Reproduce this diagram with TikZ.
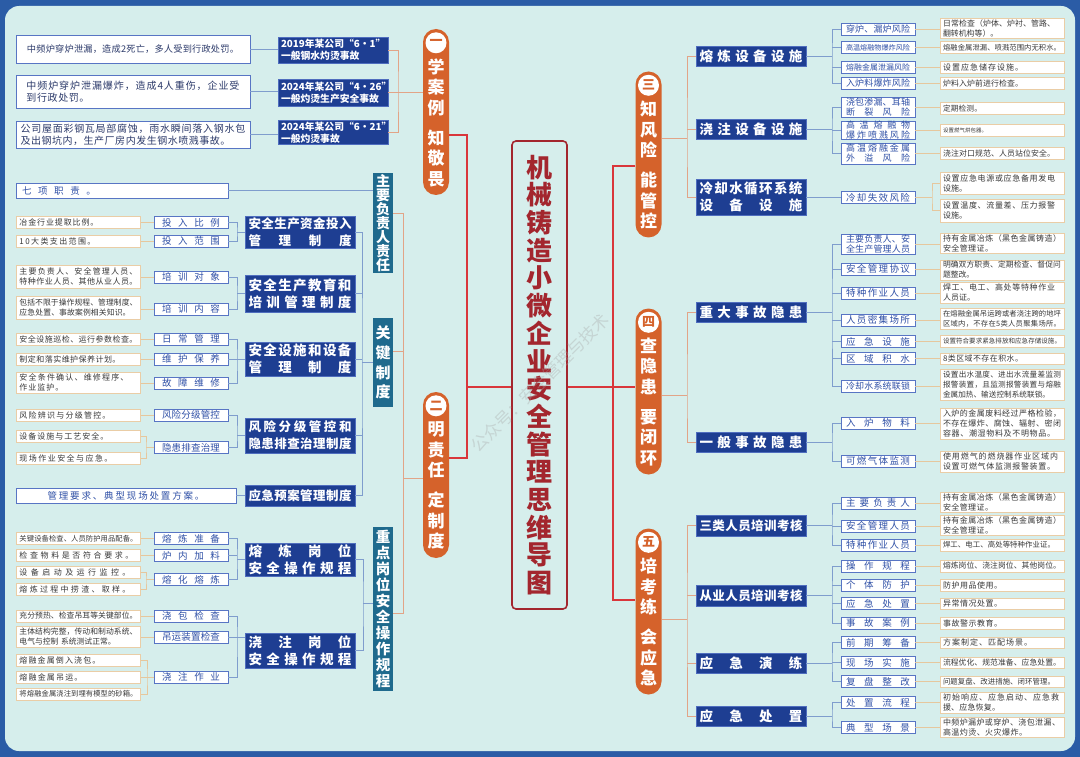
\documentclass[tikz,border=0pt]{standalone}
\usepackage{fontspec}
\setmainfont{Noto Sans CJK SC}
\usetikzlibrary{calc}
\definecolor{frameblue}{HTML}{2B5CA6}
\definecolor{paper}{HTML}{D6EEEC}
\definecolor{navybox}{HTML}{1E3E92}
\definecolor{navyedge}{HTML}{4F6DBE}
\definecolor{tealfill}{HTML}{1F6A8D}
\definecolor{pillorange}{HTML}{D5622B}
\definecolor{titlered}{HTML}{A3262E}
\definecolor{linkred}{HTML}{D9363B}
\definecolor{linksalmon}{HTML}{E2A487}
\definecolor{linkblue}{HTML}{7F9DCD}
\definecolor{linktan}{HTML}{E6C79D}
\definecolor{midtext}{HTML}{2F50A6}
\definecolor{midedge}{HTML}{5875C4}
\definecolor{leafedge}{HTML}{EACDA6}
\definecolor{leaftext}{HTML}{383838}
\definecolor{notetext}{HTML}{2C3A6A}

% spread the characters of #2 over the width #1
\makeatletter
\newcommand\spreadto[2]{\makebox[#1][s]{\spread@#2\@nil}}
\def\spread@#1#2\@nil{#1\ifx\relax#2\relax\else\hfil\spread@#2\@nil\fi}
\makeatother

\tikzset{
  titlebox/.style={rectangle, rounded corners=4pt, draw=titlered, line width=1.6pt, fill=paper, text=titlered, minimum width=55pt, minimum height=468pt, inner sep=0pt, align=center, font=\bfseries\fontsize{26}{27.7}\selectfont},
  pill/.style={rectangle, rounded corners=13pt, fill=pillorange, minimum width=26pt, minimum height=166pt, inner sep=0pt},
  numdot/.style={circle, fill=white, text=pillorange, minimum size=21pt, inner sep=0pt, font=\bfseries\fontsize{13}{13}\selectfont},
  pilltext/.style={text=white, inner sep=0pt, align=center, font=\bfseries\fontsize{17}{20.5}\selectfont},
  tealbox/.style={rectangle, fill=tealfill, text=white, minimum width=20pt, inner sep=0pt, align=center, font=\bfseries\fontsize{14}{13.9}\selectfont},
  darkbox/.style={rectangle, fill=navybox, draw=navyedge, line width=0.6pt, text=white, minimum width=110pt, inner sep=0pt, align=center, font=\bfseries\fontsize{13.5}{17}\selectfont},
  casebox/.style={rectangle, fill=navybox, draw=navyedge, line width=0.6pt, text=white, text width=104pt, inner xsep=3pt, inner ysep=0pt, align=left, font=\bfseries\fontsize{9.8}{12}\selectfont},
  notebox/.style={rectangle, fill=white, draw=midedge, line width=0.8pt, text=notetext, minimum width=234pt, inner sep=0pt, align=left, font=\fontsize{10}{12}\selectfont},
  widebox/.style={rectangle, fill=white, draw=midedge, line width=0.8pt, text=midtext, minimum height=15pt, inner sep=0pt, font=\fontsize{9.5}{11}\selectfont},
  midbox/.style={rectangle, fill=white, draw=midedge, line width=0.8pt, text=midtext, minimum width=74pt, minimum height=12pt, inner sep=0pt, align=center, font=\fontsize{9.5}{10}\selectfont},
  leafbox/.style={rectangle, fill=white, draw=leafedge, line width=0.8pt, text=leaftext, text width=118pt, inner xsep=3pt, inner ysep=0pt, minimum height=12pt, align=left, font=\fontsize{8}{10}\selectfont},
  redline/.style={draw=linkred, line width=1.3pt},
  orgline/.style={draw=linksalmon, line width=0.8pt},
  blueline/.style={draw=linkblue, line width=0.8pt},
  tanline/.style={draw=linktan, line width=0.8pt}
}

\begin{document}
\begin{tikzpicture}[x=1pt, y=-1pt]
\useasboundingbox (0,0) rectangle (1080,757);
\fill[frameblue] (0,0) rectangle (1080,757);
\fill[paper, rounded corners=14pt] (5,6) rectangle (1075,751);

% Title
\node[titlebox] (title) at (539.5,375) {机\\械\\铸\\造\\小\\微\\企\\业\\安\\全\\管\\理\\思\\维\\导\\图};

% Branch pills
\node[pill] (p1) at (436,112) {};
\node[numdot] (p1n) at ([yshift=-14pt]p1.north) {一};
\node[pilltext] (p1t) at ([yshift=-10.5pt]p1.center) {学\\案\\例\\[9.5pt]知\\敬\\畏};
\node[pill] (p2) at (436,475) {};
\node[numdot] (p2n) at ([yshift=-14pt]p2.north) {二};
\node[pilltext] (p2t) at ([yshift=-10.5pt]p2.center) {明\\责\\任\\[9.5pt]定\\制\\度};
\node[pill] (p3) at (648.5,154.5) {};
\node[numdot] (p3n) at ([yshift=-14pt]p3.north) {三};
\node[pilltext] (p3t) at ([yshift=-10.5pt]p3.center) {知\\风\\险\\[9.5pt]能\\管\\控};
\node[pill] (p4) at (648.5,391.5) {};
\node[numdot] (p4n) at ([yshift=-14pt]p4.north) {四};
\node[pilltext] (p4t) at ([yshift=-10.5pt]p4.center) {查\\隐\\患\\[9.5pt]要\\闭\\环};
\node[pill] (p5) at (648.5,611.5) {};
\node[numdot] (p5n) at ([yshift=-14pt]p5.north) {五};
\node[pilltext] (p5t) at ([yshift=-10.5pt]p5.center) {培\\考\\练\\[9.5pt]会\\应\\急};

% Trunk
\coordinate (jl) at (467,387);
\coordinate (jr) at (613,387);
\draw[redline] ([yshift=-23pt]p1.east) -| (jl) |- ([yshift=17pt]p2.east);
\draw[redline] (jl) -- (title.west |- jl);
\draw[redline] ([yshift=-11.5pt]p3.west) -| (jr) |- ([yshift=11.5pt]p5.west);
\draw[redline] (title.east |- jr) -- (p4.west |- jr);

% Cases
\node[notebox, text width=212pt, minimum height=28pt, font=\fontsize{9.2}{12}\selectfont] (wn1) at (133,49) {\spreadto{212pt}{中频炉穿炉泄漏，造成2死亡，多人受到行政处罚。}};
\node[notebox, text width=213pt, minimum height=33pt] (wn2) at (133,91.5) {\spreadto{213pt}{中频炉穿炉泄漏爆炸，造成4人重伤，企业受}\\\spreadto{63pt}{到行政处罚。}};
\node[notebox, text width=225pt, minimum height=27pt] (wn3) at (133,134.5) {\spreadto{225pt}{公司屋面彩钢瓦局部腐蚀，雨水瞬间落入钢水包}\\\spreadto{210pt}{及出钢坑内，生产厂房内发生钢水喷溅事故。}};
\node[casebox, minimum height=26pt] (cb1) at (333,50) {2019年某公司“6•1”\\一般钢水灼烫事故};
\node[casebox, minimum height=27pt] (cb2) at (333,92.5) {2024年某公司“4•26”\\一般灼烫生产安全事故};
\node[casebox, minimum height=23.5pt] (cb3) at (333,132.5) {2024年某公司“6•21”\\一般灼烫事故};

\foreach \i in {1,2,3}
  \draw[blueline] (wn\i.east) -- (cb\i.west |- wn\i.east);
\coordinate (a1) at (398,92);
\draw[orgline] (cb1.east) -| (a1) |- (cb3.east);
\draw[orgline] (cb2.east) -- (p1.west |- cb2.east);

% Duties and rules
\node[tealbox, minimum height=100pt] (vb1) at (383,223) {主\\要\\负\\责\\人\\责\\任};
\node[tealbox, minimum height=89pt, font=\bfseries\fontsize{15}{19.7}\selectfont] (vb2) at (383,362.5) {关\\键\\制\\度};
\node[tealbox, minimum height=164pt, font=\bfseries\fontsize{14.5}{15.9}\selectfont] (vb3) at (383,609) {重\\点\\岗\\位\\安\\全\\操\\作\\规\\程};

\coordinate (a2t) at (403,213);
\coordinate (a2m) at (403,351);
\coordinate (a2) at (403,478);
\coordinate (a2b) at (403,613);
\draw[orgline] (vb1.east |- a2t) -- (a2t) -- (a2b) -- (vb3.east |- a2b);
\draw[orgline] (vb2.east |- a2m) -- (a2m);
\draw[orgline] (a2) -- (p2.west |- a2);

\node[widebox, minimum width=212pt, text width=200pt, align=left] (lw1) at (122,190.5) {\spreadto{74pt}{七项职责。}};
\draw[blueline] (lw1.east) -- (vb1.west |- lw1.east);

\node[darkbox, minimum height=32pt, font=\bfseries\fontsize{12.5}{17}\selectfont] (db1) at (300,232) {\spreadto{103pt}{安全生产资金投入}\\\spreadto{103pt}{管理制度}};
\node[darkbox, minimum height=37pt] (db2) at (300,293.5) {\spreadto{103pt}{安全生产教育和}\\\spreadto{103pt}{培训管理制度}};
\node[darkbox, minimum height=34pt] (db3) at (300,359) {\spreadto{103pt}{安全设施和设备}\\\spreadto{103pt}{管理制度}};
\node[darkbox, minimum height=35pt, font=\bfseries\fontsize{12.5}{17}\selectfont] (db4) at (300,435.5) {\spreadto{103pt}{风险分级管控和}\\\spreadto{103pt}{隐患排查治理制度}};
\node[darkbox, minimum height=21pt, font=\bfseries\fontsize{12.5}{17}\selectfont] (db5) at (300,495.5) {\spreadto{103pt}{应急预案管理制度}};
\node[darkbox, minimum height=33pt] (db6) at (300,559.5) {\spreadto{103pt}{熔炼岗位}\\\spreadto{103pt}{安全操作规程}};
\node[darkbox, minimum height=35pt] (db7) at (300,650.5) {\spreadto{103pt}{浇注岗位}\\\spreadto{103pt}{安全操作规程}};

\coordinate (k1) at (362,362.5);
\draw[blueline] (db1.east) -| (k1) |- (db5.east);
\foreach \i in {2,3,4}
  \draw[blueline] (db\i.east) -- (db\i.east -| k1);
\draw[blueline] (k1) -- (vb2.west |- k1);
\coordinate (k2) at (363,603);
\draw[blueline] (db6.east) -| (k2) |- (db7.east);
\draw[blueline] (k2) -- (vb3.west |- k2);

% Left items
\node[midbox] (m1) at (191,222.5) {\spreadto{58pt}{投入比例}};
\node[midbox] (m2) at (191,241) {\spreadto{58pt}{投入范围}};
\node[midbox] (m3) at (191,277) {\spreadto{58pt}{培训对象}};
\node[midbox] (m4) at (191,309) {\spreadto{58pt}{培训内容}};
\node[midbox] (m5) at (191,339) {\spreadto{58pt}{日常管理}};
\node[midbox] (m6) at (191,359) {\spreadto{58pt}{维护保养}};
\node[midbox] (m7) at (191,383) {\spreadto{58pt}{故障维修}};
\node[midbox] (m8) at (191,415) {\spreadto{58pt}{风险分级管控}};
\node[midbox] (m9) at (191,447.5) {\spreadto{58pt}{隐患排查治理}};
\node[midbox] (m10) at (191,538.5) {\spreadto{58pt}{熔炼准备}};
\node[midbox] (m11) at (191,555.5) {\spreadto{58pt}{炉内加料}};
\node[midbox] (m12) at (191,579.5) {\spreadto{58pt}{熔化熔炼}};
\node[midbox] (m13) at (191,616) {\spreadto{58pt}{浇包检查}};
\node[midbox] (m14) at (191,637) {\spreadto{58pt}{吊运装置检查}};
\node[midbox] (m15) at (191,677) {\spreadto{58pt}{浇注作业}};

\coordinate (g1) at (237,232);
\coordinate (g2) at (237,293.5);
\coordinate (g3) at (237,359);
\coordinate (g4) at (237,435.5);
\coordinate (g6) at (237,559.5);
\coordinate (g7) at (237,637);
\draw[blueline] (m1.east) -| (g1) |- (m2.east);
\draw[blueline] (g1) -- (db1.west);
\draw[blueline] (m3.east) -| (g2) |- (m4.east);
\draw[blueline] (g2) -- (db2.west);
\draw[blueline] (m5.east) -| (g3) |- (m7.east);
\draw[blueline] (m6.east) -- (db3.west);
\draw[blueline] (m8.east) -| (g4) |- (m9.east);
\draw[blueline] (g4) -- (db4.west);
\draw[blueline] (m10.east) -| (g6) |- (m12.east);
\draw[blueline] (m11.east) -- (m11.east -| g6);
\draw[blueline] (g6) -- (db6.west);
\draw[blueline] (m13.east) -| (g7) |- (m15.east);
\draw[blueline] (m14.east) -- (db7.west |- m14.east);

% Left leaves
\node[leafbox] (l1) at (78.5,222.5) {\spreadto{79pt}{冶金行业提取比例。}};
\node[leafbox] (l2) at (78.5,241) {\spreadto{76pt}{10大类支出范围。}};
\node[leafbox, minimum height=23pt] (l3) at (78.5,276.5) {\spreadto{118pt}{主要负责人、安全管理人员、}\\\spreadto{118pt}{特种作业人员、其他从业人员。}};
\node[leafbox, minimum height=23pt, font=\fontsize{7.8}{10}\selectfont] (l4) at (78.5,307.5) {\spreadto{118pt}{包括不限于操作规程、管理制度、}\\\spreadto{111pt}{应急处置、事故案例相关知识。}};
\node[leafbox] (l5) at (78.5,339) {\spreadto{118pt}{安全设施巡检、运行参数检查。}};
\node[leafbox] (l6) at (78.5,359) {\spreadto{101pt}{制定和落实维护保养计划。}};
\node[leafbox, minimum height=21pt] (l7) at (78.5,382.5) {\spreadto{109pt}{安全条件确认、维修程序、}\\\spreadto{44pt}{作业监护。}};
\node[leafbox] (l8) at (78.5,415) {\spreadto{91pt}{风险辨识与分级管控。}};
\node[leafbox] (l9) at (78.5,436) {\spreadto{89pt}{设备设施与工艺安全。}};
\node[leafbox] (l10) at (78.5,458) {\spreadto{93pt}{现场作业安全与应急。}};
\node[widebox, minimum width=220pt] (lw2) at (126,495.5) {\spreadto{157pt}{管理要求、典型现场处置方案。}};
\node[leafbox, font=\fontsize{7.3}{10}\selectfont] (l11) at (78.5,538.5) {\spreadto{118pt}{关键设备检查、人员防护用品配备。}};
\node[leafbox] (l12) at (78.5,555.5) {\spreadto{114pt}{检查物料是否符合要求。}};
\node[leafbox] (l13) at (78.5,572) {\spreadto{111pt}{设备启动及运行监控。}};
\node[leafbox] (l14) at (78.5,589) {\spreadto{111pt}{熔炼过程中捞渣、取样。}};
\node[leafbox, font=\fontsize{7.8}{10}\selectfont] (l15) at (78.5,616) {\spreadto{118pt}{充分预热、检查吊耳等关键部位。}};
\node[leafbox, minimum height=21pt, font=\fontsize{7.8}{10}\selectfont] (l16) at (78.5,636.5) {\spreadto{118pt}{主体结构完整，传动和制动系统、}\\电气与控制 系统测试正常。};
\node[leafbox] (l17) at (78.5,660) {\spreadto{81pt}{熔融金属倒入浇包。}};
\node[leafbox] (l18) at (78.5,677) {\spreadto{63pt}{熔融金属吊运。}};
\node[leafbox, font=\fontsize{7.3}{10}\selectfont] (l19) at (78.5,694) {\spreadto{118pt}{将熔融金属浇注到埋有模型的砂箱。}};

\foreach \a/\b in {1/1,2/2,3/3,4/4,5/5,6/6,7/7,8/8,11/10,12/11,15/13,16/14}
  \draw[tanline] (m\b.west) -- (l\a.east |- m\b.west);
\coordinate (h9) at (146,447.5);
\draw[tanline] (l9.east) -| (h9) |- (l10.east);
\draw[tanline] (h9) -- (m9.west);
\coordinate (h12) at (146,579.5);
\draw[tanline] (l13.east) -| (h12) |- (l14.east);
\draw[tanline] (h12) -- (m12.west);
\coordinate (h15) at (147,677);
\draw[tanline] (l17.east) -| (h15) |- (l19.east);
\draw[tanline] (l18.east) -- (m15.west);
\draw[blueline] (lw2.east) -- (db5.west |- lw2.east);

% Right groups
\node[darkbox, minimum height=20pt] (d1) at (751,56) {\spreadto{103pt}{熔炼设备设施}};
\node[darkbox, minimum height=20pt] (d2) at (751,129) {\spreadto{103pt}{浇注设备设施}};
\node[darkbox, minimum height=36pt] (d3) at (751,197) {\spreadto{103pt}{冷却水循环系统}\\\spreadto{103pt}{设备设施}};
\node[darkbox, minimum height=20pt] (d4) at (751,312) {\spreadto{103pt}{重大事故隐患}};
\node[darkbox, minimum height=20pt] (d5) at (751,442) {\spreadto{103pt}{一般事故隐患}};
\node[darkbox, minimum height=21pt, font=\bfseries\fontsize{12.5}{17}\selectfont] (d6) at (751,525.5) {\spreadto{103pt}{三类人员培训考核}};
\node[darkbox, minimum height=21pt, font=\bfseries\fontsize{12.5}{17}\selectfont] (d7) at (751,595.5) {\spreadto{103pt}{从业人员培训考核}};
\node[darkbox, minimum height=20pt] (d8) at (751,663) {\spreadto{103pt}{应急演练}};
\node[darkbox, minimum height=20pt] (d9) at (751,716) {\spreadto{103pt}{应急处置}};

\coordinate (c3) at (687,138);
\draw[orgline] ([yshift=16.5pt]p3.east) -- (c3);
\draw[orgline] (d1.west) -| (c3) |- (d3.west);
\draw[orgline] (d2.west) -- (d2.west -| c3);
\coordinate (c4) at (687,395);
\draw[orgline] (p4.east |- c4) -- (c4);
\draw[orgline] (d4.west) -| (c4) |- (d5.west);
\coordinate (c5) at (687,619);
\draw[orgline] (p5.east |- c5) -- (c5);
\draw[orgline] (d6.west) -| (c5) |- (d9.west);
\draw[orgline] (d7.west) -- (d7.west -| c5);
\draw[orgline] (d8.west) -- (d8.west -| c5);

% Right items
\node[midbox, font=\fontsize{9}{10}\selectfont] (n1) at (878,29.5) {\spreadto{64pt}{穿炉、漏炉风险}};
\node[midbox, font=\fontsize{7.1}{10}\selectfont] (n2) at (878,47.5) {\spreadto{64pt}{高温熔融物爆炸风险}};
\node[midbox, font=\fontsize{7.9}{10}\selectfont] (n3) at (878,67.5) {\spreadto{64pt}{熔融金属泄漏风险}};
\node[midbox, font=\fontsize{9}{10}\selectfont] (n4) at (878,83.5) {\spreadto{64pt}{入炉料爆炸风险}};
\node[midbox, minimum height=20pt, font=\fontsize{9}{10}\selectfont] (n5) at (878,107) {\spreadto{64pt}{浇包渗漏、耳轴}\\\spreadto{64pt}{断裂风险}};
\node[midbox, minimum height=18pt, font=\fontsize{9}{9.5}\selectfont] (n6) at (878,130) {\spreadto{64pt}{高温熔融物}\\\spreadto{64pt}{爆炸喷溅风险}};
\node[midbox, minimum height=21pt, font=\fontsize{9}{10}\selectfont] (n7) at (878,153.5) {\spreadto{64pt}{高温熔融金属}\\\spreadto{64pt}{外溢风险}};
\node[midbox] (n8) at (878,197.5) {\spreadto{64pt}{冷却失效风险}};
\node[midbox, minimum height=20pt, font=\fontsize{9}{10}\selectfont] (n9) at (878,244) {\spreadto{64pt}{主要负责人、安}\\\spreadto{64pt}{全生产管理人员}};
\node[midbox] (n10) at (878,269) {\spreadto{64pt}{安全管理协议}};
\node[midbox] (n11) at (878,293) {\spreadto{64pt}{特种作业人员}};
\node[midbox] (n12) at (878,320) {\spreadto{64pt}{人员密集场所}};
\node[midbox] (n13) at (878,341.5) {\spreadto{64pt}{应急设施}};
\node[midbox] (n14) at (878,358.5) {\spreadto{64pt}{区域积水}};
\node[midbox, font=\fontsize{9}{10}\selectfont] (n15) at (878,386) {\spreadto{64pt}{冷却水系统联锁}};
\node[midbox] (n16) at (878,423) {\spreadto{64pt}{入炉物料}};
\node[midbox] (n17) at (878,461) {\spreadto{64pt}{可燃气体监测}};
\node[midbox] (n18) at (878,503) {\spreadto{64pt}{主要负责人}};
\node[midbox] (n19) at (878,526) {\spreadto{64pt}{安全管理人员}};
\node[midbox] (n20) at (878,545) {\spreadto{64pt}{特种作业人员}};
\node[midbox] (n21) at (878,566) {\spreadto{64pt}{操作规程}};
\node[midbox] (n22) at (878,585) {\spreadto{64pt}{个体防护}};
\node[midbox] (n23) at (878,603.5) {\spreadto{64pt}{应急处置}};
\node[midbox] (n24) at (878,623) {\spreadto{64pt}{事故案例}};
\node[midbox] (n25) at (878,642.5) {\spreadto{64pt}{前期筹备}};
\node[midbox] (n26) at (878,662.5) {\spreadto{64pt}{现场实施}};
\node[midbox] (n27) at (878,681.5) {\spreadto{64pt}{复盘整改}};
\node[midbox] (n28) at (878,702.5) {\spreadto{64pt}{处置流程}};
\node[midbox] (n29) at (878,727.5) {\spreadto{64pt}{典型场景}};

\coordinate (q1) at (832,56);
\draw[blueline] (n1.west) -| (q1) |- (n4.west);
\foreach \i in {2,3}
  \draw[blueline] (n\i.west) -- (n\i.west -| q1);
\draw[blueline] (d1.east) -- (q1);
\coordinate (q2) at (832,129);
\draw[blueline] (n5.west) -| (q2) |- (n7.west);
\draw[blueline] (n6.west) -- (n6.west -| q2);
\draw[blueline] (d2.east) -- (q2);
\draw[blueline] (d3.east) -- (n8.west |- d3.east);
\coordinate (q4) at (832,312);
\draw[blueline] (n9.west) -| (q4) |- (n15.west);
\foreach \i in {10,...,14}
  \draw[blueline] (n\i.west) -- (n\i.west -| q4);
\draw[blueline] (d4.east) -- (q4);
\coordinate (q5) at (832,442);
\draw[blueline] (n16.west) -| (q5) |- (n17.west);
\draw[blueline] (d5.east) -- (q5);
\coordinate (q6) at (832,525.5);
\draw[blueline] (n18.west) -| (q6) |- (n20.west);
\draw[blueline] (n19.west) -- (n19.west -| q6);
\draw[blueline] (d6.east) -- (q6);
\coordinate (q7) at (832,595.5);
\draw[blueline] (n21.west) -| (q7) |- (n24.west);
\foreach \i in {22,23}
  \draw[blueline] (n\i.west) -- (n\i.west -| q7);
\draw[blueline] (d7.east) -- (q7);
\coordinate (q8) at (832,663);
\draw[blueline] (n25.west) -| (q8) |- (n27.west);
\draw[blueline] (n26.west) -- (n26.west -| q8);
\draw[blueline] (d8.east) -- (q8);
\coordinate (q9) at (832,716);
\draw[blueline] (n28.west) -| (q9) |- (n29.west);
\draw[blueline] (d9.east) -- (q9);

% Right leaves
\node[leafbox, minimum height=20pt, font=\fontsize{7.9}{10}\selectfont] (r1) at (1002,28) {\spreadto{112pt}{日常检查（炉体、炉衬、管路、}\\\spreadto{55pt}{翻转机构等）。}};
\node[leafbox, minimum height=11.5pt, font=\fontsize{7.3}{10}\selectfont] (r2) at (1002,47.5) {\spreadto{118pt}{熔融金属泄漏、喷溅范围内无积水。}};
\node[leafbox] (r3) at (1002,67) {\spreadto{80pt}{设置应急储存设施。}};
\node[leafbox, font=\fontsize{7.9}{10}\selectfont] (r4) at (1002,83) {\spreadto{80pt}{炉料入炉前进行检查。}};
\node[leafbox, minimum height=11.5pt, font=\fontsize{7.7}{10}\selectfont] (r5) at (1002,108.5) {\spreadto{39pt}{定期检测。}};
\node[leafbox, font=\fontsize{5.4}{10}\selectfont] (r6) at (1002,130) {\spreadto{44pt}{设置燃气烘包器。}};
\node[leafbox, minimum height=11.5pt, font=\fontsize{7.9}{10}\selectfont] (r7) at (1002,153.5) {\spreadto{112pt}{浇注对口规范、人员站位安全。}};
\node[leafbox, minimum height=22pt] (r8) at (1002,183) {\spreadto{112pt}{设置应急电源或应急备用发电}\\设施。};
\node[leafbox, minimum height=23pt] (r9) at (1002,210.5) {\spreadto{112pt}{设置温度、流量差、压力报警}\\设施。};
\node[leafbox, minimum height=20pt] (r10) at (1002,243) {\spreadto{118pt}{持有金属冶炼（黑色金属铸造）}\\\spreadto{50pt}{安全管理证。}};
\node[leafbox, minimum height=20pt, font=\fontsize{7.8}{10}\selectfont] (r11) at (1002,270) {\spreadto{118pt}{明确双方职责、定期检查、督促问}\\题整改。};
\node[leafbox, minimum height=21pt] (r12) at (1002,292.5) {\spreadto{112pt}{焊工、电工、高处等特种作业}\\人员证。};
\node[leafbox, minimum height=21pt, font=\fontsize{7.3}{10}\selectfont] (r13) at (1002,318.5) {\spreadto{118pt}{在熔融金属吊运跨或者浇注跨的地坪}\\\spreadto{118pt}{区域内，不存在5类人员聚集场所。}};
\node[leafbox, font=\fontsize{6.5}{10}\selectfont] (r14) at (1002,341) {\spreadto{118pt}{设置符合要求紧急排放和应急存储设施。}};
\node[leafbox, minimum height=11pt, font=\fontsize{7.9}{10}\selectfont] (r15) at (1002,358.5) {\spreadto{80pt}{8类区域不存在积水。}};
\node[leafbox, minimum height=31pt, font=\fontsize{7.6}{10}\selectfont] (r16) at (1002,384.5) {\spreadto{118pt}{设置出水温度、进出水流量差监测}\\\spreadto{118pt}{报警装置，且监测报警装置与熔融}\\\spreadto{107pt}{金属加热、输送控制系统联锁。}};
\node[leafbox, minimum height=31pt] (r17) at (1002,423.5) {\spreadto{118pt}{入炉的金属废料经过严格检验，}\\\spreadto{118pt}{不存在爆炸、腐蚀、辐射、密闭}\\\spreadto{112pt}{容器、潮湿物料及不明物品。}};
\node[leafbox, minimum height=21pt] (r18) at (1002,461.5) {\spreadto{115pt}{使用燃气的燃烧器作业区域内}\\\spreadto{112pt}{设置可燃气体监测报警装置。}};
\node[leafbox, minimum height=20pt] (r19) at (1002,502) {\spreadto{118pt}{持有金属冶炼（黑色金属铸造）}\\\spreadto{50pt}{安全管理证。}};
\node[leafbox, minimum height=20pt] (r20) at (1002,525) {\spreadto{118pt}{持有金属冶炼（黑色金属铸造）}\\\spreadto{50pt}{安全管理证。}};
\node[leafbox, font=\fontsize{7.4}{10}\selectfont] (r21) at (1002,545) {\spreadto{112pt}{焊工、电工、高处等特种作业证。}};
\node[leafbox, font=\fontsize{7.8}{10}\selectfont] (r22) at (1002,566) {\spreadto{118pt}{熔炼岗位、浇注岗位、其他岗位。}};
\node[leafbox] (r23) at (1002,585) {\spreadto{59pt}{防护用品使用。}};
\node[leafbox, minimum height=11pt] (r24) at (1002,603.5) {\spreadto{59pt}{异常情况处置。}};
\node[leafbox] (r25) at (1002,623) {\spreadto{59pt}{事故警示教育。}};
\node[leafbox, minimum height=11pt] (r26) at (1002,642.5) {\spreadto{89pt}{方案制定、匹配场景。}};
\node[leafbox, minimum height=11pt, font=\fontsize{7.8}{10}\selectfont] (r27) at (1002,662.5) {\spreadto{118pt}{流程优化、规范准备、应急处置。}};
\node[leafbox, minimum height=11pt, font=\fontsize{7.4}{10}\selectfont] (r28) at (1002,681.5) {\spreadto{112pt}{问题复盘、改进措施、闭环管理。}};
\node[leafbox, minimum height=21pt] (r29) at (1002,702.5) {\spreadto{116pt}{初始响应、应急启动、应急救}\\\spreadto{57pt}{援、应急恢复。}};
\node[leafbox, minimum height=20pt] (r30) at (1002,727) {\spreadto{117pt}{中频炉漏炉或穿炉、浇包泄漏、}\\\spreadto{84pt}{高温灼烫、火灾爆炸。}};

\foreach \a/\b in {1/1,2/2,3/3,4/4,5/5,6/6,7/7,9/10,10/11,11/12,12/13,13/14,14/15,15/16,16/17,17/18,18/19,19/20,20/21,21/22,22/23,23/24,24/25,25/26,26/27,27/28,28/29,29/30}
  \draw[tanline] (n\a.east) -- (r\b.west |- n\a.east);
\coordinate (u8) at (932,197.5);
\draw[tanline] (r8.west) -| (u8) |- (r9.west);
\draw[tanline] (n8.east) -- (u8);

% Watermark
\node[rotate=45, text=gray!70, opacity=0.35, font=\fontsize{17}{17}\selectfont] (wm) at (540,383) {公众号：安全管理与技术};

\end{tikzpicture}
\end{document}
